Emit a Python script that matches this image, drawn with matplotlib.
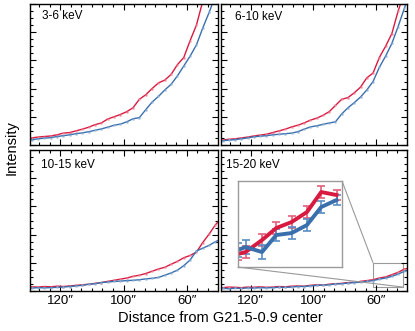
import numpy as np
import matplotlib
matplotlib.use("Agg")
import matplotlib.pyplot as plt
from matplotlib.ticker import MultipleLocator, AutoMinorLocator
from mpl_toolkits.axes_grid1.inset_locator import mark_inset

plt.rcParams["font.family"] = ["Liberation Sans", "DejaVu Sans"]

# distance from center (arcsec), shared grid for the radial profiles
dist = [129, 127, 125, 123, 121, 119, 117, 115, 113, 111, 109, 107, 105, 103, 101,
        99, 97, 95, 93, 91, 89, 87, 85, 83, 81, 79, 77, 75, 73, 71, 69]

bands = ["3-6 keV", "6-10 keV", "10-15 keV", "15-20 keV"]

red_3_6 = [0.25, 0.28, 0.30, 0.32, 0.36, 0.42, 0.44, 0.50, 0.56, 0.63, 0.72, 0.78, 0.92, 1.00, 1.08,
           1.18, 1.32, 1.62, 1.78, 2.00, 2.20, 2.30, 2.50, 2.85, 3.10, 3.70, 4.25, 5.10, 5.80]
blue_3_6 = [0.18, 0.22, 0.24, 0.26, 0.30, 0.33, 0.36, 0.40, 0.43, 0.47, 0.52, 0.57, 0.63, 0.70, 0.74,
            0.82, 0.93, 0.97, 1.25, 1.52, 1.72, 1.95, 2.15, 2.45, 2.80, 3.15, 3.55, 4.15, 4.70, 5.30]

red_6_10 = [0.18, 0.20, 0.22, 0.25, 0.28, 0.32, 0.35, 0.38, 0.44, 0.50, 0.56, 0.64, 0.70, 0.78, 0.88,
            0.95, 1.05, 1.18, 1.40, 1.62, 1.68, 1.85, 2.05, 2.38, 2.55, 3.10, 3.50, 3.95, 4.75, 5.40]
blue_6_10 = [0.15, 0.17, 0.19, 0.22, 0.25, 0.29, 0.31, 0.33, 0.36, 0.38, 0.40, 0.42, 0.47, 0.56, 0.64,
             0.68, 0.73, 0.78, 0.82, 1.10, 1.32, 1.50, 1.70, 1.95, 2.25, 2.75, 3.15, 3.60, 4.20, 4.85, 5.50]

red_10_15 = [0.15, 0.14, 0.16, 0.15, 0.17, 0.16, 0.18, 0.20, 0.22, 0.24, 0.27, 0.30, 0.34, 0.38, 0.42,
             0.46, 0.52, 0.56, 0.62, 0.70, 0.78, 0.84, 0.95, 1.05, 1.18, 1.26, 1.38, 1.72, 2.02, 2.35, 2.60]
blue_10_15 = [0.10, 0.12, 0.11, 0.12, 0.13, 0.14, 0.16, 0.18, 0.20, 0.24, 0.26, 0.30, 0.32, 0.34, 0.35,
              0.37, 0.38, 0.40, 0.43, 0.45, 0.48, 0.56, 0.64, 0.74, 0.90, 1.10, 1.42, 1.52, 1.62, 1.75, 1.85]

red_15_20 = [0.12, 0.14, 0.13, 0.12, 0.14, 0.13, 0.15, 0.13, 0.14, 0.16, 0.15, 0.17, 0.18, 0.17, 0.20,
             0.22, 0.21, 0.24, 0.26, 0.27, 0.30, 0.31, 0.34, 0.37, 0.40, 0.46, 0.50, 0.58, 0.66, 0.78, 0.82]
blue_15_20 = [0.10, 0.08, 0.10, 0.09, 0.11, 0.10, 0.12, 0.11, 0.12, 0.13, 0.13, 0.14, 0.16, 0.16, 0.18,
              0.20, 0.21, 0.22, 0.25, 0.26, 0.28, 0.30, 0.31, 0.34, 0.37, 0.42, 0.46, 0.52, 0.60, 0.70, 0.75]

red_series = [red_3_6, red_6_10, red_10_15, red_15_20]
blue_series = [blue_3_6, blue_6_10, blue_10_15, blue_15_20]

# zoomed inset of the 15-20 keV outer profile
inset_x = [81.0, 80.3, 78.8, 77.5, 76.1, 74.7, 73.4, 72.0]
inset_red = [0.27, 0.29, 0.41, 0.53, 0.59, 0.69, 0.89, 0.86]
inset_red_err = [0.06, 0.06, 0.06, 0.06, 0.06, 0.06, 0.06, 0.05]
inset_blue = [0.31, 0.34, 0.29, 0.46, 0.48, 0.56, 0.74, 0.81]
inset_blue_err = [0.07, 0.07, 0.07, 0.06, 0.06, 0.06, 0.06, 0.05]

tick_pos = [120, 100, 80]
tick_labels = ["120\u2033", "100\u2033", "60\u2033"]

RED = "#d91a40"
BLUE = "#3a6fad"

fig = plt.figure(figsize=(4.15, 3.31), dpi=100)

rects = [
    [0.0723, 0.562, 0.453, 0.426],
    [0.5325, 0.562, 0.448, 0.426],
    [0.0723, 0.1208, 0.453, 0.426],
    [0.5325, 0.1208, 0.448, 0.426],
]
label_pos = [(0.062, 0.915), (0.075, 0.91), (0.057, 0.894), (0.025, 0.894)]

axes = []
for i, r in enumerate(rects):
    ax = fig.add_axes(r)
    red = red_series[i]
    blue = blue_series[i]
    ax.plot(dist[:len(red)], red, color=RED, lw=1.0, marker="s", ms=1.8,
            mfc="#ec7d93", mec="none")
    ax.plot(dist[:len(blue)], blue, color=BLUE, lw=1.0, marker="s", ms=1.8,
            mfc="#86acd6", mec="none")
    ax.set_xlim(129.5, 70.2)
    ax.set_ylim(0, 5)
    ax.xaxis.set_major_locator(MultipleLocator(20))
    ax.xaxis.set_minor_locator(AutoMinorLocator(6))
    ax.yaxis.set_major_locator(MultipleLocator(1))
    ax.yaxis.set_minor_locator(AutoMinorLocator(4))
    ax.tick_params(which="both", direction="in", top=True, right=True,
                   labelleft=False, width=0.8)
    ax.tick_params(which="major", length=4)
    ax.tick_params(which="minor", length=2)
    ax.set_xticks(tick_pos)
    if i >= 2:
        ax.set_xticklabels(tick_labels, fontsize=9.5)
        ax.tick_params(axis="x", pad=3)
    else:
        ax.tick_params(labelbottom=False)
    for s in ax.spines.values():
        s.set_linewidth(1.0)
    ax.text(label_pos[i][0], label_pos[i][1], bands[i], transform=ax.transAxes,
            fontsize=8.5, va="center", ha="left")
    axes.append(ax)

# inset on the 15-20 keV panel
ax4 = axes[3]
axins = ax4.inset_axes([0.091, 0.17, 0.56, 0.61])
axins.errorbar(inset_x, inset_red, yerr=inset_red_err, color=RED, lw=2.8,
               elinewidth=1.2, capsize=3, capthick=1.2, ecolor="#e0607a")
axins.errorbar(inset_x, inset_blue, yerr=inset_blue_err, color=BLUE, lw=2.8,
               elinewidth=1.2, capsize=3, capthick=1.2, ecolor="#5a8cc4")
axins.set_xlim(81.0, 71.5)
axins.set_ylim(0.14, 1.0)
axins.set_xticks([])
axins.set_yticks([])
for s in axins.spines.values():
    s.set_edgecolor("#9a9a9a")
    s.set_linewidth(1.0)
mark_inset(ax4, axins, loc1=1, loc2=3, fc="none", ec="#9a9a9a", lw=0.8)

fig.text(0.029, 0.553, "Intensity", rotation=90, fontsize=10.5, ha="center",
         va="center")
fig.text(0.53, 0.039, "Distance from G21.5-0.9 center", fontsize=10.5,
         ha="center", va="center")

fig.savefig("out.png", dpi=100)
